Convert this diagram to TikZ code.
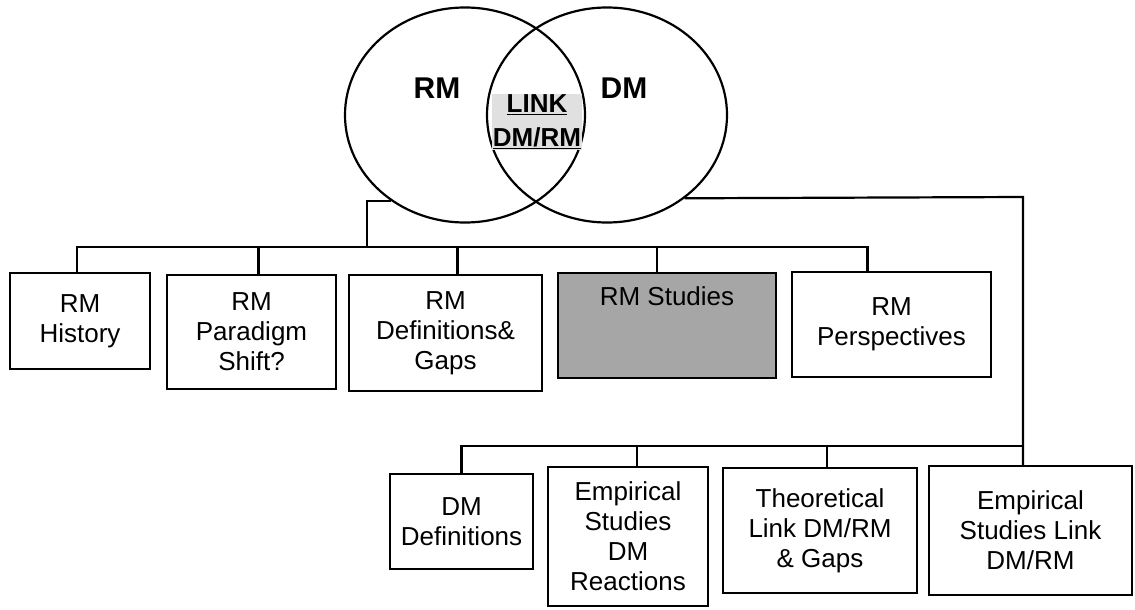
\documentclass[tikz,border=0pt]{standalone}
\usepackage{fontspec}
\setmainfont{Liberation Sans}
\usetikzlibrary{shapes.geometric}
\begin{document}
\begin{tikzpicture}[x=1pt, y=-1pt, line width=2.2pt,
  every node/.style={font=\fontsize{26}{30}\selectfont, align=center},
  venn/.style={draw, ellipse, minimum width=240pt, minimum height=215pt, inner sep=0pt},
  topic/.style={draw, rectangle, inner sep=2pt}]
  \useasboundingbox (0,0) rectangle (1135,610);
  % the two sets and their overlap
  \node[venn] (rm) at (465,115) {};
  \node[venn] (dm) at (607,115) {};
  \node[font=\fontsize{30}{34}\selectfont\bfseries] (rmname) at (437,88) {RM};
  \node[font=\fontsize{30}{34}\selectfont\bfseries] (dmname) at (624,88) {DM};
  \node[font=\fontsize{26}{34}\selectfont\bfseries, fill=black!12, inner sep=1pt] (link) at (537,122) {\underline{LINK}\\\underline{DM/RM}};
  % RM topics
  \node[topic, minimum width=140pt, minimum height=96pt] (hist) at (80,321) {RM\\History};
  \node[topic, minimum width=169pt, minimum height=114pt] (para) at (251.5,332) {RM\\Paradigm\\Shift?};
  \node[topic, minimum width=193pt, minimum height=116pt] (defs) at (445.5,333) {RM\\Definitions\&\\Gaps};
  \node[topic, fill=black!35, minimum width=218pt, minimum height=105pt,
    label={[anchor=north, yshift=-10pt]north:RM Studies}] (stud) at (667,325.5) {};
  \node[topic, minimum width=199pt, minimum height=105pt] (persp) at (891.5,324.5) {RM\\Perspectives};
  % DM topics
  \node[topic, minimum width=143pt, minimum height=95pt] (dmdef) at (461.5,521.5) {DM\\Definitions};
  \node[topic, minimum width=160pt, minimum height=139pt] (emprx) at (628,536.5) {Empirical\\Studies\\DM\\Reactions};
  \node[topic, minimum width=194pt, minimum height=125pt] (theo) at (820,530.5) {Theoretical\\Link DM/RM\\\& Gaps};
  \node[topic, minimum width=203pt, minimum height=129pt] (emplink) at (1030.5,530.5) {Empirical\\Studies Link\\DM/RM};
  % connectors
  \coordinate (rmbus) at (367,247);
  \coordinate (dmturn) at (1023,197);
  \coordinate (dmbus) at (1023,446);
  \draw (rm.229) -| (rmbus);
  \draw ([xshift=-3pt]hist.north) |- ([xshift=-24pt]persp.north |- rmbus) -- ([xshift=-24pt]persp.north);
  \foreach \t/\s in {para/7, defs/12, stud/-10} {
    \draw ([xshift=\s pt]\t.north) -- ([xshift=\s pt]\t.north |- rmbus);
  }
  \draw (dm.-47) -- (dmturn) -- (dmturn |- emplink.north);
  \draw (dmdef.north) |- (dmbus);
  \foreach \t/\s in {emprx/9, theo/7} {
    \draw ([xshift=\s pt]\t.north) -- ([xshift=\s pt]\t.north |- dmbus);
  }
\end{tikzpicture}
\end{document}
